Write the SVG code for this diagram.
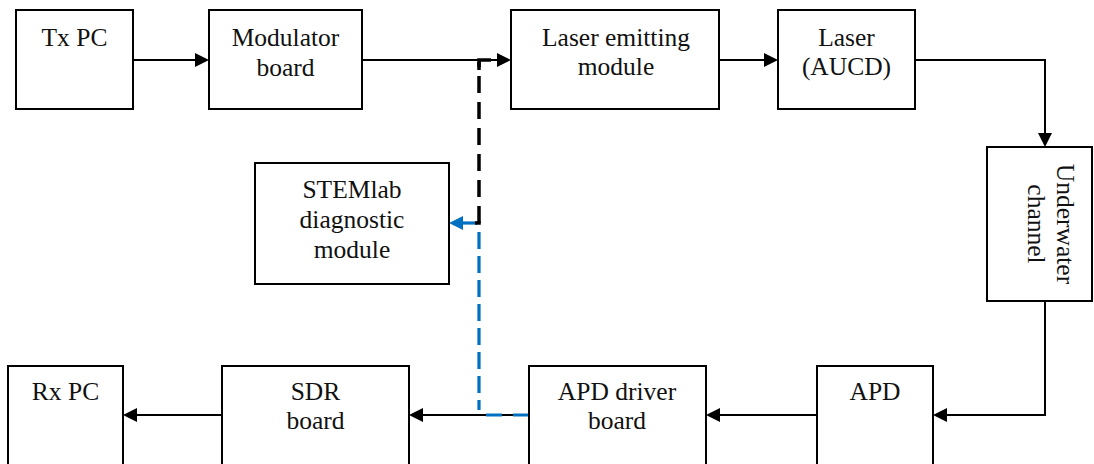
<svg xmlns="http://www.w3.org/2000/svg" width="1094" height="464" viewBox="0 0 1094 464">
<defs>
<style>
.box{fill:#fff;stroke:#000;stroke-width:2}
.t{font-family:'Liberation Serif',Tinos,'Times New Roman','DejaVu Serif',serif;font-size:25.5px;fill:#111;text-anchor:middle}
.ln{fill:none;stroke:#000;stroke-width:2}
.bk{fill:none;stroke:#000;stroke-width:3.5}
.bl{fill:none;stroke:#0070C0;stroke-width:3.2}
</style>
<marker id="ah" markerUnits="userSpaceOnUse" markerWidth="14" markerHeight="14" refX="2" refY="7" orient="auto">
<path d="M0,0 L14,7 L0,14 z" fill="#000"/>
</marker>
<marker id="ahb" markerUnits="userSpaceOnUse" markerWidth="14" markerHeight="14" refX="2" refY="7" orient="auto">
<path d="M0,0 L14,7 L0,14 z" fill="#0070C0"/>
</marker>
</defs>
<rect width="1094" height="464" fill="#fff"/>
<g id="connectors">
<path class="ln" d="M133,60 H197" marker-end="url(#ah)"/>
<path class="ln" d="M362,60 H499" marker-end="url(#ah)"/>
<path class="ln" d="M719,60 H766" marker-end="url(#ah)"/>
<path class="ln" d="M915,60 H1045 V135" marker-end="url(#ah)"/>
<path class="ln" d="M1045,301 V415 H945" marker-end="url(#ah)"/>
<path class="ln" d="M817,415 H718" marker-end="url(#ah)"/>
<path class="ln" d="M529,415 H421" marker-end="url(#ah)"/>
<path class="ln" d="M222,415 H135" marker-end="url(#ah)"/>
<path class="bl" d="M529,415 H486" stroke-dasharray="16 11"/>
<path class="bl" d="M479,232 V410" stroke-dasharray="17 7"/>
<path class="bl" d="M477,223 H461" marker-end="url(#ahb)"/>
<path class="bk" d="M479,223 V62" stroke-dasharray="17 9"/>
<path class="bk" d="M479,70 V60 H491"/>
<path class="bk" d="M475,223 H480.75"/>
</g>
<g id="txpc"><rect class="box" x="16" y="10" width="117" height="99"/><text class="t" x="74.5" y="46">Tx PC</text></g>
<g id="modulator"><rect class="box" x="209" y="10" width="153" height="99"/><text class="t" x="285.5" y="46">Modulator</text><text class="t" x="285.5" y="76">board</text></g>
<g id="laseremit"><rect class="box" x="511" y="10" width="208" height="99"/><text class="t" x="616" y="46">Laser emitting</text><text class="t" x="616" y="75">module</text></g>
<g id="laser"><rect class="box" x="778" y="10" width="137" height="99"/><text class="t" x="846.5" y="46">Laser</text><text class="t" x="846.5" y="75">(AUCD)</text></g>
<g id="underwater"><rect class="box" x="987" y="147" width="105" height="154"/><text class="t" transform="translate(1057,224) rotate(90)">Underwater</text><text class="t" transform="translate(1028,224) rotate(90)">channel</text></g>
<g id="stemlab"><rect class="box" x="255" y="163" width="194" height="121"/><text class="t" x="352" y="198">STEMlab</text><text class="t" x="352" y="228">diagnostic</text><text class="t" x="352" y="258">module</text></g>
<g id="apd"><rect class="box" x="817" y="366" width="116" height="104"/><text class="t" x="875" y="400">APD</text></g>
<g id="apddriver"><rect class="box" x="529" y="366" width="177" height="104"/><text class="t" x="617" y="400">APD driver</text><text class="t" x="617" y="429">board</text></g>
<g id="sdr"><rect class="box" x="222" y="366" width="187" height="104"/><text class="t" x="315.5" y="400">SDR</text><text class="t" x="315.5" y="429">board</text></g>
<g id="rxpc"><rect class="box" x="8" y="366" width="115" height="104"/><text class="t" x="65.5" y="400">Rx PC</text></g>
</svg>
